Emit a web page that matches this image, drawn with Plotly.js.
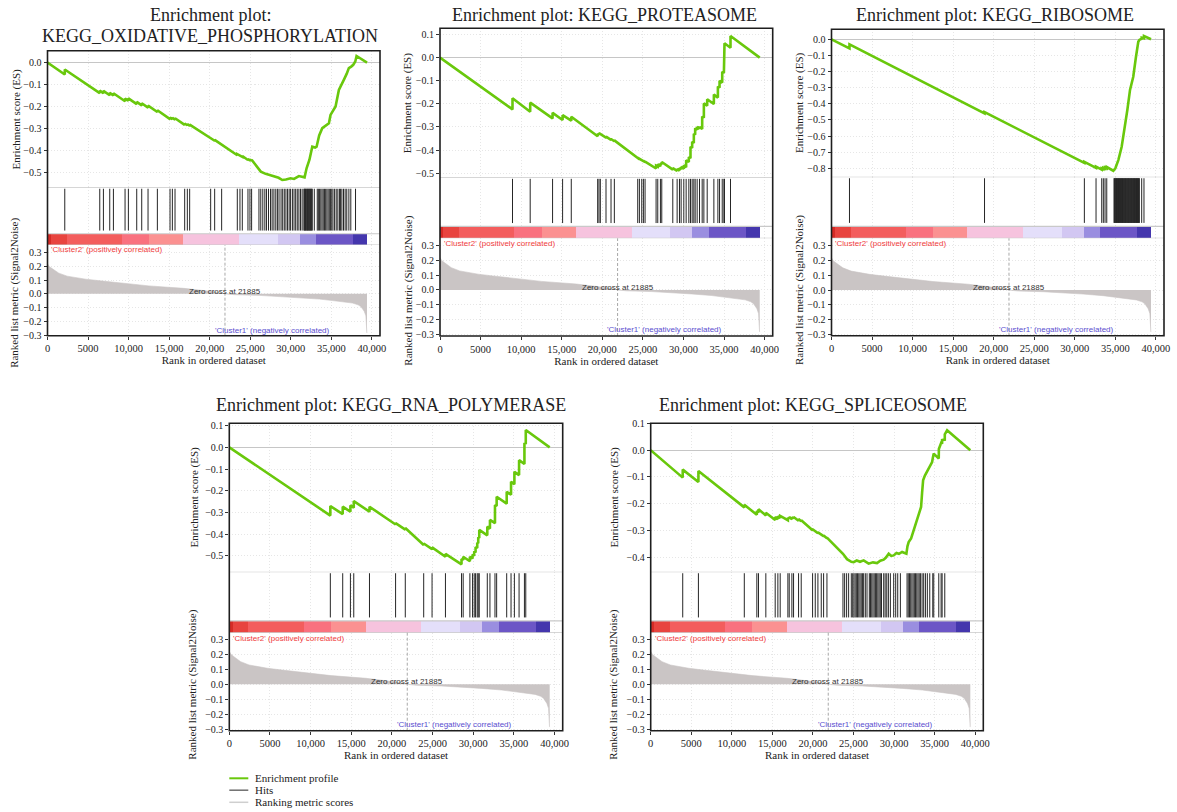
<!DOCTYPE html>
<html><head><meta charset="utf-8">
<script src="https://cdn.plot.ly/plotly-3.0.1.min.js"></script>
<style>html,body{margin:0;padding:0;background:#fff}#chart{width:1177px;height:812px}</style>
</head><body><div id="chart"></div>
<script>
// ================= DATA =================
const titleLines = [
  ['Enrichment plot:', 'KEGG_OXIDATIVE_PHOSPHORYLATION'],
  ['Enrichment plot: KEGG_PROTEASOME'],
  ['Enrichment plot: KEGG_RIBOSOME'],
  ['Enrichment plot: KEGG_RNA_POLYMERASE'],
  ['Enrichment plot: KEGG_SPLICEOSOME']
];
const xTickVals = [0, 5000, 10000, 15000, 20000, 25000, 30000, 35000, 40000];
const xTickText = ['0', '5000', '10,000', '15,000', '20,000', '25,000', '30,000', '35,000', '40,000'];
const zeroCross = 21885;
const zeroCrossLabel = 'Zero cross at 21885';
const posLabel = "'Cluster2' (positively correlated)";
const negLabel = "'Cluster1' (negatively correlated)";
const esAxisTitle = 'Enrichment score (ES)';
const metricAxisTitle = 'Ranked list metric (Signal2Noise)';
const rankAxisTitle = 'Rank in ordered dataset';
const legendLabels = ['Enrichment profile', 'Hits', 'Ranking metric scores'];

// ranked list metric (shared by all panels)
const metricRanks  = [0, 200, 572, 1000, 1395, 2424, 3500, 4688, 6500, 9214, 12507, 16827, 19500, 21000, 21885, 23000, 26087, 28500, 31025, 33500, 35141, 36500, 37610, 38300, 38640, 39054, 39257, 39380, 39400];
const metricValues = [0.220, 0.200, 0.184, 0.165, 0.151, 0.129, 0.117, 0.107, 0.095, 0.080, 0.058, 0.040, 0.025, 0.012, 0.0, -0.006, -0.011, -0.018, -0.027, -0.038, -0.049, -0.058, -0.067, -0.080, -0.093, -0.127, -0.160, -0.282, -0.285];

// colour-bar segment edges (rank)
const colorbarEdges = [0, 400, 2350, 9140, 12515, 16754, 23626, 28400, 31075, 33133, 37660, 39400];

// running enrichment score [rank, ES]
const esOxphos = [[0,0],[2131,-0.054],[2132,-0.031],[6443,-0.138],[6444,-0.127],[6895,-0.139],[6896,-0.128],[7675,-0.148],[7676,-0.137],[8127,-0.149],[8128,-0.139],[9564,-0.175],[9565,-0.163],[9975,-0.173],[9976,-0.162],[11002,-0.188],[11003,-0.178],[11618,-0.194],[11619,-0.184],[12398,-0.204],[12399,-0.195],[13548,-0.224],[13549,-0.216],[15108,-0.256],[15109,-0.249],[15396,-0.256],[15397,-0.250],[15724,-0.258],[15725,-0.252],[16915,-0.282],[16916,-0.276],[17244,-0.284],[17245,-0.279],[17531,-0.286],[17532,-0.281],[20119,-0.345],[20120,-0.341],[20612,-0.354],[20613,-0.350],[21474,-0.372],[21475,-0.368],[23404,-0.420],[23405,-0.415],[23732,-0.423],[23733,-0.419],[24020,-0.427],[24021,-0.423],[24718,-0.441],[24719,-0.437],[24964,-0.443],[24965,-0.439],[25170,-0.444],[25171,-0.440],[26300,-0.494],[26900,-0.504],[27500,-0.510],[27900,-0.514],[28500,-0.522],[28950,-0.532],[29400,-0.530],[29975,-0.524],[30400,-0.527],[31000,-0.514],[31400,-0.518],[31700,-0.520],[31946,-0.479],[32300,-0.440],[32650,-0.381],[33000,-0.385],[33180,-0.381],[33500,-0.330],[33880,-0.297],[34300,-0.285],[34700,-0.275],[34900,-0.237],[35200,-0.220],[35520,-0.199],[35930,-0.124],[36200,-0.100],[36540,-0.078],[36900,-0.050],[37160,-0.025],[37450,-0.018],[37700,-0.010],[37950,0.005],[38110,0.030],[39400,0.0]];
const esProteasome = [[0,0],[8935,-0.224],[8936,-0.176],[11115,-0.234],[11116,-0.195],[13873,-0.263],[13874,-0.239],[15108,-0.270],[15109,-0.249],[16177,-0.273],[16178,-0.256],[19429,-0.340],[19430,-0.330],[19593,-0.334],[19594,-0.327],[19758,-0.331],[19759,-0.328],[20457,-0.346],[20458,-0.342],[21075,-0.356],[21076,-0.352],[21486,-0.362],[21487,-0.358],[24367,-0.437],[24368,-0.435],[24573,-0.440],[24574,-0.438],[24861,-0.445],[24862,-0.443],[25066,-0.448],[25067,-0.446],[25272,-0.452],[25273,-0.450],[26630,-0.480],[26631,-0.468],[26836,-0.472],[26837,-0.462],[27165,-0.470],[27166,-0.458],[27330,-0.462],[27331,-0.452],[28688,-0.485],[28689,-0.478],[29223,-0.490],[29224,-0.482],[29511,-0.489],[29512,-0.478],[29717,-0.483],[29718,-0.473],[30046,-0.481],[30047,-0.466],[30334,-0.474],[30335,-0.444],[30664,-0.452],[30665,-0.430],[30869,-0.436],[30870,-0.386],[31075,-0.391],[31076,-0.364],[31281,-0.369],[31282,-0.330],[31445,-0.334],[31446,-0.306],[31692,-0.312],[31693,-0.300],[31980,-0.307],[31981,-0.300],[32310,-0.309],[32311,-0.255],[32516,-0.260],[32517,-0.198],[32927,-0.208],[32928,-0.180],[33750,-0.201],[33751,-0.160],[34244,-0.173],[34245,-0.125],[34450,-0.130],[34451,-0.100],[34779,-0.108],[34780,-0.061],[34985,-0.066],[34986,0.019],[35060,0.017],[35061,0.062],[35800,0.043],[35801,0.094],[39400,0.0]];
const esRibosome = [[0,0],[2216,-0.056],[2217,-0.031],[18870,-0.459],[18871,-0.452],[31180,-0.766],[31181,-0.760],[32620,-0.797],[32621,-0.790],[33320,-0.808],[33321,-0.800],[33520,-0.805],[33521,-0.797],[33730,-0.802],[33731,-0.794],[33940,-0.800],[33941,-0.792],[34750,-0.815],[35000,-0.800],[35370,-0.749],[35780,-0.666],[36190,-0.542],[36480,-0.438],[36810,-0.314],[37210,-0.232],[37545,-0.108],[37830,-0.015],[37960,-0.004],[38250,0.004],[38251,0.010],[38530,0.006],[38531,0.020],[39400,0.0]];
const esRnaPolymerase = [[0,0],[12424,-0.315],[12425,-0.271],[13947,-0.308],[13948,-0.274],[14893,-0.297],[14894,-0.268],[15305,-0.279],[15306,-0.248],[17239,-0.297],[17240,-0.274],[20449,-0.356],[20450,-0.350],[21643,-0.380],[21644,-0.372],[23906,-0.451],[23907,-0.444],[24935,-0.470],[24936,-0.462],[26581,-0.505],[26582,-0.492],[28557,-0.540],[28558,-0.515],[28762,-0.520],[28763,-0.505],[29585,-0.526],[29586,-0.505],[29915,-0.513],[29916,-0.495],[30120,-0.500],[30121,-0.480],[30285,-0.485],[30286,-0.460],[30491,-0.465],[30492,-0.440],[30614,-0.443],[30615,-0.415],[30738,-0.418],[30739,-0.381],[31726,-0.406],[31727,-0.366],[32054,-0.375],[32055,-0.335],[32672,-0.350],[32673,-0.266],[32878,-0.271],[32879,-0.228],[34112,-0.260],[34113,-0.205],[34647,-0.219],[34648,-0.159],[35059,-0.170],[35060,-0.113],[35635,-0.128],[35636,-0.059],[36294,-0.077],[36295,0.020],[36458,0.016],[36459,0.080],[39400,0.0]];
const esSpliceosome = [[0,0],[3947,-0.1025],[3948,-0.0725],[5881,-0.119],[5882,-0.0775],[11540,-0.214],[11541,-0.204],[12300,-0.222],[13083,-0.242],[13084,-0.228],[13288,-0.233],[13289,-0.221],[14194,-0.244],[14195,-0.234],[15140,-0.257],[15346,-0.261],[15347,-0.250],[15675,-0.258],[15676,-0.247],[15963,-0.254],[15964,-0.246],[16910,-0.262],[16911,-0.253],[17075,-0.257],[17076,-0.250],[17404,-0.258],[17405,-0.251],[17609,-0.256],[17610,-0.250],[18227,-0.264],[18228,-0.258],[18556,-0.266],[18557,-0.262],[19955,-0.300],[19956,-0.296],[20284,-0.305],[20285,-0.302],[20614,-0.311],[20615,-0.308],[21025,-0.318],[21026,-0.315],[21313,-0.322],[21314,-0.319],[21725,-0.330],[21726,-0.327],[23700,-0.388],[23906,-0.395],[24200,-0.408],[24729,-0.418],[25010,-0.419],[25400,-0.413],[25800,-0.418],[26250,-0.4125],[26865,-0.425],[27400,-0.420],[27900,-0.4225],[28300,-0.414],[28721,-0.410],[29000,-0.402],[29340,-0.3875],[29650,-0.396],[29955,-0.394],[30300,-0.385],[30600,-0.388],[30990,-0.381],[31300,-0.384],[31520,-0.3875],[31650,-0.360],[31800,-0.344],[32100,-0.330],[32420,-0.300],[32750,-0.272],[33040,-0.244],[33330,-0.2125],[33454,-0.160],[33580,-0.1125],[33800,-0.095],[34070,-0.081],[34400,-0.062],[34690,-0.044],[34771,-0.030],[34890,-0.0125],[35200,-0.022],[35511,-0.031],[35520,0.005],[35800,0.0275],[35923,0.024],[35924,0.038],[36252,0.040],[36253,0.060],[36540,0.075],[39400,0.0]];

// hit positions (rank)
const hitsOxphos = [2131, 6443, 6895, 7675, 8127, 9564, 9975, 11002, 11618, 12398, 13548, 15108, 15396, 15724, 16915, 17244, 17531, 20119, 20612, 21474, 23404, 23732, 24020, 24718, 24964, 25170, 26073, 26300, 26550, 26800, 27000, 27250, 27500, 27700, 27921, 28150, 28350, 28550, 28800, 29000, 29200, 29400, 29600, 29800, 29974, 30200, 30400, 30600, 30800, 31000, 31200, 31400, 31617, 31680, 31750, 31820, 31900, 31980, 32050, 32120, 32200, 32280, 32350, 32420, 32500, 32570, 32648, 32900, 33264, 33400, 33550, 33700, 33850, 34000, 34150, 34300, 34450, 34600, 34750, 34907, 35050, 35200, 35400, 35600, 35800, 36000, 36139, 36300, 36500, 36700, 36900, 37161, 37400, 37983];
const hitsProteasome = [8935, 11115, 13873, 15108, 16177, 19429, 19593, 19758, 20457, 21075, 21486, 24367, 24573, 24861, 25066, 25272, 26630, 26836, 27165, 27330, 28688, 29223, 29511, 29717, 30046, 30334, 30664, 30869, 31075, 31281, 31445, 31692, 31980, 32310, 32516, 32927, 33750, 34244, 34450, 34779, 34985, 35060, 35800];
const hitsRibosome = [2216, 18870, 31180, 32620, 33320, 33520, 33730, 33940, 34840, 34890, 34950, 35030, 35090, 35140, 35210, 35260, 35330, 35390, 35440, 35520, 35570, 35630, 35700, 35750, 35810, 35880, 35930, 35990, 36060, 36110, 36170, 36240, 36290, 36350, 36420, 36470, 36530, 36600, 36650, 36710, 36780, 36830, 36890, 36960, 37010, 37070, 37140, 37190, 37250, 37320, 37370, 37430, 37500, 37550, 37610, 37680, 37730, 37790, 37860, 37910, 37960, 38250, 38530];
const hitsRnaPolymerase = [12424, 13947, 14893, 15305, 17239, 20449, 21643, 23906, 24935, 26581, 28557, 28762, 29585, 29915, 30120, 30285, 30491, 30614, 30738, 31726, 32054, 32672, 32878, 34112, 34647, 35059, 35635, 36294, 36458];
const hitsSpliceosome = [3947, 5881, 11540, 13083, 13288, 14194, 15346, 15675, 15963, 16910, 17075, 17404, 17609, 18227, 18556, 19955, 20284, 20614, 21025, 21313, 21725, 23700, 23906, 24150, 24400, 24729, 24900, 25050, 25200, 25350, 25500, 25650, 25800, 25950, 26100, 26250, 26457, 26663, 26952, 27100, 27250, 27400, 27550, 27700, 27850, 28000, 28150, 28300, 28450, 28721, 28900, 29100, 29300, 29544, 29955, 30200, 30450, 30779, 31602, 31750, 31900, 32050, 32200, 32350, 32500, 32650, 32800, 32950, 33100, 33250, 33454, 33650, 33866, 34100, 34400, 34771, 34894, 35511, 35800, 35923, 36252];

// ================= STYLE / LAYOUT =================
const colorbarColors = ['#d52b26', '#e8443f', '#f35d5d', '#f9717f', '#fb9191', '#f6c3de', '#e4dffa', '#d2c7f2', '#9a8ee0', '#6c56c6', '#4436ad'];
const W = 1177, H = 812;
const SERIF = 'Liberation Serif, DejaVu Serif, serif';
const SANS = 'Liberation Sans, Arial, sans-serif';
const GREEN = '#69c80c';
const GRID = '#e6e6e6';
const GRIDDASH = '1px,2px';
const SEP = '#c9c9c9';
const CB_FRAC = 0.195;

// geometry in pixels
const geo = [
  {L:47.5, R:380,   esTop:50.7,  esBot:187.3, hitBot:245,   metBot:335.7, esRange:[-0.565,0.054], metRange:[-0.305,0.356], tx:210,   ty:[15,36.5], esTX:15.5,  metTX:14.5},
  {L:440,  R:772.7, esTop:28.3,  esBot:177.3, hitBot:238.3, metBot:336,   esRange:[-0.518,0.127], metRange:[-0.312,0.350], tx:604,   ty:[15],      esTX:407.5, metTX:408.5},
  {L:831.5,R:1164,  esTop:29.3,  esBot:176.7, hitBot:238.3, metBot:335.7, esRange:[-0.852,0.062], metRange:[-0.310,0.352], tx:995,   ty:[15],      esTX:799,   metTX:799},
  {L:229.3,R:562.7, esTop:423.3, esBot:571.7, hitBot:632.7, metBot:730.7, esRange:[-0.574,0.111], metRange:[-0.309,0.344], tx:391,   ty:[405],     esTX:194,   metTX:193},
  {L:650.7,R:983.3, esTop:423.3, esBot:571.7, hitBot:632.7, metBot:730.7, esRange:[-0.455,0.101], metRange:[-0.309,0.344], tx:812.5, ty:[405],     esTX:614,   metTX:614}
];
const esSets = [esOxphos, esProteasome, esRibosome, esRnaPolymerase, esSpliceosome];
const hitSets = [hitsOxphos, hitsProteasome, hitsRibosome, hitsRnaPolymerase, hitsSpliceosome];

const px2x = p => p / W;
const px2y = p => 1 - p / H;
const sfx = n => (n === 1 ? '' : String(n));

const traces = [];
const layout = {
  width: W, height: H,
  margin: {l:0, r:0, t:0, b:0},
  paper_bgcolor: '#fff', plot_bgcolor: 'rgba(0,0,0,0)',
  showlegend: false, barmode: 'overlay', bargap: 0,
  font: {family: SERIF, size: 10.5, color: '#222'},
  shapes: [], annotations: []
};

const cbMid = colorbarEdges.slice(0, -1).map((e, i) => (e + colorbarEdges[i + 1]) / 2);
const cbWidth = colorbarEdges.slice(0, -1).map((e, i) => colorbarEdges[i + 1] - e);

geo.forEach((g, i) => {
  const a = 3 * i + 1, b = a + 1, c = a + 2;
  const xd = [px2x(g.L), px2x(g.R)];
  const xr = [0, 41000];
  const es = esSets[i], hits = hitSets[i];

  traces.push({type:'scatter', mode:'lines', x: es.map(p => p[0]), y: es.map(p => p[1]),
    xaxis:'x'+sfx(a), yaxis:'y'+sfx(a), line:{color:GREEN, width:2.6}, hoverinfo:'skip'});
  traces.push({type:'scatter', mode:'lines', x: hits.flatMap(h => [h, h, null]), y: hits.flatMap(() => [0.25, 0.975, null]),
    xaxis:'x'+sfx(b), yaxis:'y'+sfx(b), line:{color:'#262626', width:1}, hoverinfo:'skip'});
  traces.push({type:'bar', x: cbMid, width: cbWidth, y: cbMid.map(() => CB_FRAC), base: 0,
    marker:{color: colorbarColors, line:{width:0}}, xaxis:'x'+sfx(b), yaxis:'y'+sfx(b), hoverinfo:'skip'});
  traces.push({type:'scatter', mode:'lines', x: metricRanks, y: metricValues, fill:'tozeroy',
    fillcolor:'#cac5c5', line:{color:'#cac5c5', width:0.6}, xaxis:'x'+sfx(c), yaxis:'y'+sfx(c), hoverinfo:'skip'});

  const tickfont = {family: SERIF, size: 10, color: '#222'};
  const titlefont = {family: SERIF, size: 11, color: '#222'};
  const gridX = {showgrid:true, gridcolor:GRID, griddash:GRIDDASH, gridwidth:1, dtick:5000, tick0:0, zeroline:false};

  layout['xaxis'+sfx(a)] = Object.assign({domain:xd, range:xr, anchor:'y'+sfx(a), showticklabels:false, ticks:''}, gridX);
  layout['yaxis'+sfx(a)] = {domain:[px2y(g.esBot), px2y(g.esTop)], range:g.esRange, anchor:'x'+sfx(a),
    dtick:0.1, tick0:0, tickformat:'.1f', ticks:'outside', ticklen:3, tickcolor:'#333', tickfont,
    showgrid:true, gridcolor:GRID, griddash:GRIDDASH, zeroline:true, zerolinecolor:'#c6c6c6', zerolinewidth:1.5};
  layout['xaxis'+sfx(b)] = Object.assign({domain:xd, range:xr, anchor:'y'+sfx(b), showticklabels:false, ticks:''}, gridX);
  layout['yaxis'+sfx(b)] = {domain:[px2y(g.hitBot), px2y(g.esBot)], range:[0,1], anchor:'x'+sfx(b),
    showgrid:false, showticklabels:false, zeroline:false, ticks:''};
  layout['xaxis'+sfx(c)] = Object.assign({domain:xd, range:xr, anchor:'y'+sfx(c), tickvals:xTickVals, ticktext:xTickText,
    ticks:'outside', ticklen:3, tickcolor:'#333', tickfont:{family: SERIF, size: 10.5, color: '#222'},
    title:{text:rankAxisTitle, font:titlefont, standoff:1}}, gridX);
  layout['yaxis'+sfx(c)] = {domain:[px2y(g.metBot), px2y(g.hitBot)], range:g.metRange, anchor:'x'+sfx(c),
    dtick:0.1, tick0:0, tickformat:'.1f', ticks:'outside', ticklen:3, tickcolor:'#333', tickfont,
    showgrid:true, gridcolor:GRID, griddash:GRIDDASH, zeroline:false};

  layout.annotations.push({xref:'paper', yref:'paper', x:px2x(g.esTX), y:px2y((g.esTop + g.esBot) / 2), textangle:-90,
    xanchor:'center', yanchor:'middle', text:esAxisTitle, showarrow:false, font:titlefont});
  layout.annotations.push({xref:'paper', yref:'paper', x:px2x(g.metTX), y:px2y((g.hitBot + g.metBot) / 2 + 3), textangle:-90,
    xanchor:'center', yanchor:'middle', text:metricAxisTitle, showarrow:false, font:titlefont});

  [1, CB_FRAC, 0].forEach(yv => layout.shapes.push({type:'line', xref:'x'+sfx(b)+' domain', x0:0, x1:1,
    yref:'y'+sfx(b), y0:yv, y1:yv, line:{color:SEP, width:1.2}}));
  layout.shapes.push({type:'line', xref:'x'+sfx(c), x0:zeroCross, x1:zeroCross, yref:'y'+sfx(c)+' domain', y0:0, y1:1,
    line:{color:'#a8a8a8', width:1, dash:'3px,2px'}});
  layout.shapes.push({type:'rect', xref:'paper', yref:'paper', x0:px2x(g.L), x1:px2x(g.R), y0:px2y(g.metBot), y1:px2y(g.esTop),
    line:{color:'#1e1e1e', width:1.6}});

  layout.annotations.push({xref:'x'+sfx(c)+' domain', yref:'y'+sfx(c)+' domain', x:0.006, y:0.945, xanchor:'left', yanchor:'middle',
    text:posLabel, showarrow:false, font:{family:SANS, size:8, color:'#f03c3c'}});
  layout.annotations.push({xref:'x'+sfx(c), yref:'y'+sfx(c), x:zeroCross, y:0.018, xanchor:'center', yanchor:'middle',
    text:zeroCrossLabel, showarrow:false, font:{family:SANS, size:8, color:'#333'}});
  layout.annotations.push({xref:'x'+sfx(c), yref:'y'+sfx(c), x:27700, y:-0.268, xanchor:'center', yanchor:'middle',
    text:negLabel, showarrow:false, font:{family:SANS, size:8, color:'#5a4ecf'}});

  titleLines[i].forEach((t, k) => layout.annotations.push({xref:'paper', yref:'paper', x:px2x(g.tx), y:px2y(g.ty[k]),
    xanchor:'center', yanchor:'middle', text:t, showarrow:false, font:{family:SERIF, size:18, color:'#222'}}));
});

// legend (bottom-left)
const legendStyles = [{color:GREEN, width:2}, {color:'#6e6e6e', width:1.5}, {color:'#cfcfcf', width:1.5}];
const legendY = [778.3, 790.2, 802.3];
legendLabels.forEach((lab, k) => {
  layout.shapes.push({type:'line', xref:'paper', yref:'paper', x0:px2x(229.3), x1:px2x(248.3), y0:px2y(legendY[k]), y1:px2y(legendY[k]), line:legendStyles[k]});
  layout.annotations.push({xref:'paper', yref:'paper', x:px2x(253), y:px2y(legendY[k]), xanchor:'left', yanchor:'middle',
    text:lab, showarrow:false, font:{family:SERIF, size:11, color:'#222'}});
});

Plotly.newPlot('chart', traces, layout, {displayModeBar:false, staticPlot:true});
</script>
</body></html>
